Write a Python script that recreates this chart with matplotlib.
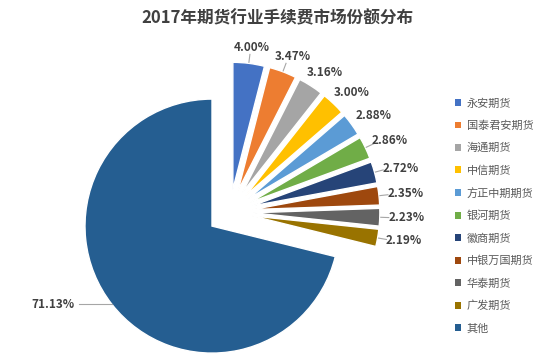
import matplotlib
matplotlib.use('Agg')
from matplotlib import pyplot as plt
from matplotlib.patches import Patch
import numpy as np

plt.rcParams['font.family'] = ['Noto Sans CJK SC', 'DejaVu Sans']

title = '2017年期货行业手续费市场份额分布'
companies = ['永安期货', '国泰君安期货', '海通期货', '中信期货', '方正中期期货',
             '银河期货', '徽商期货', '中银万国期货', '华泰期货', '广发期货', '其他']
shares = [4.00, 3.47, 3.16, 3.00, 2.88, 2.86, 2.72, 2.35, 2.23, 2.19, 71.13]
colors = ['#4472C4', '#ED7D31', '#A5A5A5', '#FFC000', '#5B9BD5', '#70AD47',
          '#264478', '#9E480E', '#636363', '#997300', '#255E91']
# which small slices get a leader line
show_line = [True, True, False, False, False, True, True, True, True, True]

# layout in pixels of the 550x355 picture
W, H = 550, 355
R_PX = 127          # pie radius
CX, CY = 230, 212   # pie centre, measured from top-left
EXPL = 0.18

fig = plt.figure(figsize=(W/100, H/100), dpi=100)
ax = fig.add_axes([0, 0, 1, 1])
wedges, _ = ax.pie(shares, colors=colors, explode=[EXPL]*len(shares),
                   startangle=90, counterclock=False, radius=1,
                   wedgeprops=dict(edgecolor='white', linewidth=1))
ax.set_xlim(-CX/R_PX, (W-CX)/R_PX)
ax.set_ylim(-(H-CY)/R_PX, CY/R_PX)
ax.axis('off')

label_kw = dict(fontsize=8.5, fontweight='bold', color='#404040')
line_kw = dict(color='#A6A6A6', lw=0.8)
for i, w in enumerate(wedges):
    ang = np.deg2rad((w.theta1 + w.theta2)/2)
    c, s = np.cos(ang), np.sin(ang)
    px, py = w.center
    ox, oy = px + w.r*c, py + w.r*s   # point on the arc, mid slice
    txt = f'{shares[i]:.2f}%'
    if i == len(wedges)-1:
        # big slice: horizontal leader to the left
        ax.plot([ox, ox - 33/R_PX], [oy, oy], **line_kw)
        ax.text(ox - 37/R_PX, oy, txt, ha='right', va='center', **label_kw)
    else:
        if show_line[i]:
            ax.plot([ox + c/R_PX, ox + 9*c/R_PX], [oy + s/R_PX, oy + 9*s/R_PX], **line_kw)
        ax.text(ox + 27*c/R_PX, oy + 16*s/R_PX, txt, ha='center', va='center', **label_kw)

fig.text(277/W, 1 - 18/H, title, ha='center', va='center',
         fontsize=12, fontweight='bold', color='#404040')

handles = [Patch(facecolor=col, edgecolor='none') for col in colors]
leg = fig.legend(handles, companies, loc='upper left', bbox_to_anchor=(455/W, 1 - 98/H),
                 frameon=False, fontsize=8, handlelength=0.55, handleheight=0.55,
                 handletextpad=0.5, labelspacing=1.08, borderaxespad=0, borderpad=0)
for t in leg.get_texts():
    t.set_color('#595959')

plt.savefig('out.png', dpi=100)
plt.close()
